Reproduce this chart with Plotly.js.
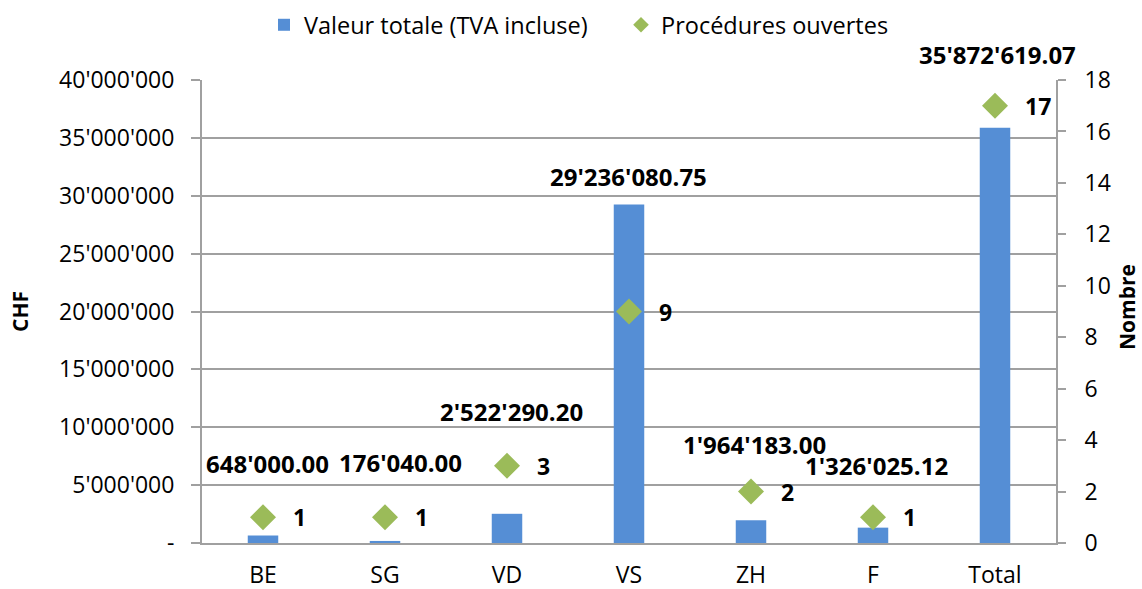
<!DOCTYPE html>
<html>
<head>
<meta charset="utf-8">
<script src="https://cdn.plot.ly/plotly-3.0.1.min.js"></script>
<style>html,body{margin:0;padding:0;background:#fff;}#chart{width:1142px;height:589px;}</style>
</head>
<body>
<div id="chart"></div>
<script>
// ---- data ----
const categories = ['BE', 'SG', 'VD', 'VS', 'ZH', 'F', 'Total'];
const valeurTotale = [648000.00, 176040.00, 2522290.20, 29236080.75, 1964183.00, 1326025.12, 35872619.07];
const proceduresOuvertes = [1, 1, 3, 9, 2, 1, 17];
const leftTickVals = [0, 5000000, 10000000, 15000000, 20000000, 25000000, 30000000, 35000000, 40000000];
const leftTickText = ['-', "5'000'000", "10'000'000", "15'000'000", "20'000'000", "25'000'000", "30'000'000", "35'000'000", "40'000'000"];
const rightTickVals = [0, 2, 4, 6, 8, 10, 12, 14, 16, 18];
const seriesNames = ['Valeur totale (TVA incluse)', 'Procédures ouvertes'];
const axisTitles = ['CHF', 'Nombre'];

// ---- style (label offsets in px, not data) ----
const labelDy = [72, 78, 102, 28, 76, 62, 73];
const labelDx = [4, 15, 4, -1, 3, 3, 2];
const FONT = '"Open Sans", "Liberation Sans", sans-serif';
const GRID = '#A0A0A0';

function swiss(v) {
  const parts = v.toFixed(2).split('.');
  return parts[0].replace(/\B(?=(\d{3})+(?!\d))/g, "'") + '.' + parts[1];
}

const traces = [
  {
    type: 'bar', name: seriesNames[0], x: categories, y: valeurTotale,
    marker: {color: '#558ED5'}, width: 0.25, yaxis: 'y'
  },
  {
    type: 'scatter', mode: 'markers', name: seriesNames[1], x: categories, y: proceduresOuvertes,
    yaxis: 'y2', marker: {symbol: 'diamond', size: 20, color: '#9BBB59'}
  }
];

const annotations = [];
categories.forEach((c, i) => {
  annotations.push({
    x: c, y: valeurTotale[i], xref: 'x', yref: 'y', text: swiss(valeurTotale[i]),
    showarrow: false, xanchor: 'center', yanchor: 'middle', yshift: labelDy[i], xshift: labelDx[i],
    font: {family: FONT, size: 24, color: '#000', weight: 'bold'}
  });
  annotations.push({
    x: c, y: proceduresOuvertes[i], xref: 'x', yref: 'y2', text: String(proceduresOuvertes[i]),
    showarrow: false, xanchor: 'left', yanchor: 'middle', xshift: 28,
    font: {family: FONT, size: 23, color: '#000', weight: 'bold'}
  });
});
const W = 1142, H = 589;
annotations.push({
  x: 20 / W, y: 1 - 312 / H, xref: 'paper', yref: 'paper', text: axisTitles[0], showarrow: false, textangle: -90,
  xanchor: 'center', yanchor: 'middle',
  font: {family: FONT, size: 21, color: '#000', weight: 'bold'}
});
annotations.push({
  x: 1127 / W, y: 1 - 307 / H, xref: 'paper', yref: 'paper', text: axisTitles[1], showarrow: false, textangle: -90,
  xanchor: 'center', yanchor: 'middle',
  font: {family: FONT, size: 21, color: '#000', weight: 'bold'}
});
// paper coords for the titles: convert from container fractions
const L = 202, R = 86, T = 80, B = 46;
const pw = W - L - R, ph = H - T - B;
annotations.slice(-2).forEach(a => {
  const px = a.x * W, py = (1 - a.y) * H;
  a.x = (px - L) / pw;
  a.y = (H - B - py) / ph;
});

const layout = {
  width: W, height: H,
  margin: {l: L, r: R, t: T, b: B, pad: 0},
  paper_bgcolor: '#fff', plot_bgcolor: '#fff',
  font: {family: FONT, size: 23, color: '#000'},
  showlegend: true,
  legend: {
    orientation: 'h', xref: 'container', yref: 'container',
    x: 264 / W, xanchor: 'left', y: 1 - 25 / H, yanchor: 'middle',
    entrywidth: 312, entrywidthmode: 'pixels',
    font: {family: FONT, size: 23.5, color: '#000'}, itemsizing: 'constant', traceorder: 'normal'
  },
  bargap: 0.75,
  xaxis: {
    type: 'category', range: [-0.5, 6.5], autorange: false,
    showline: true, linecolor: GRID, linewidth: 2, ticks: '',
    showgrid: false, ticklabelstandoff: 10, tickfont: {family: FONT, size: 23}, automargin: false
  },
  yaxis: {
    range: [0, 40000000], autorange: false, tickvals: leftTickVals, ticktext: leftTickText,
    showgrid: true, gridcolor: GRID, gridwidth: 2, zeroline: false,
    showline: true, linecolor: GRID, linewidth: 2,
    ticks: 'outside', ticklen: 9, tickcolor: GRID, tickwidth: 2, ticklabelstandoff: 12,
    tickfont: {family: FONT, size: 23}, automargin: false
  },
  yaxis2: {
    overlaying: 'y', side: 'right', range: [0, 18], autorange: false, tickvals: rightTickVals,
    showgrid: false, zeroline: false, showline: true, linecolor: GRID, linewidth: 2,
    ticks: 'outside', ticklen: 8, tickcolor: GRID, tickwidth: 2, ticklabelstandoff: 14,
    tickfont: {family: FONT, size: 23}, automargin: false
  },
  annotations: annotations
};

Plotly.newPlot('chart', traces, layout, {displayModeBar: false, staticPlot: true});
</script>
</body>
</html>
